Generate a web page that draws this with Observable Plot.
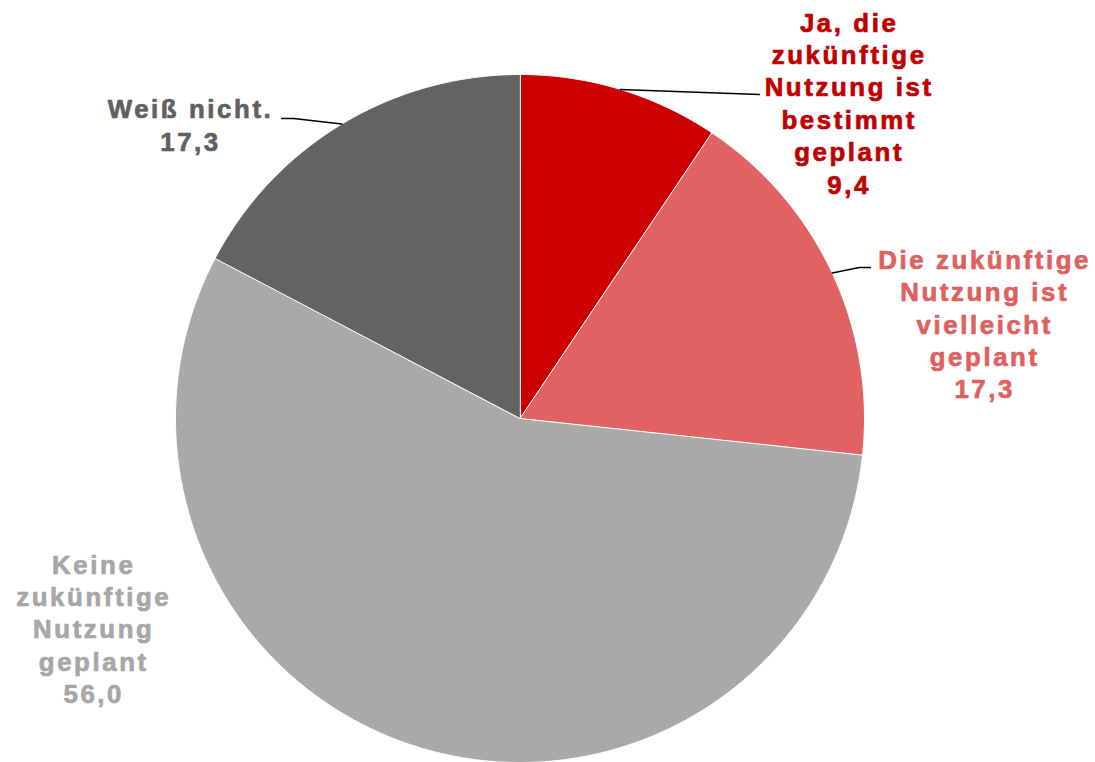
<!DOCTYPE html>
<html><head><meta charset="utf-8">
<script src="https://cdn.jsdelivr.net/npm/d3@7"></script>
<script src="https://cdn.jsdelivr.net/npm/@observablehq/plot@0.6"></script>
<style>
body{margin:0;background:#fff}
#chart svg text{letter-spacing:2.6px}
</style></head><body><div id="chart"></div>
<script>
const categories = ["Ja, die zukünftige Nutzung ist bestimmt geplant", "Die zukünftige Nutzung ist vielleicht geplant", "Keine zukünftige Nutzung geplant", "Weiß nicht."];
const values = [9.4, 17.3, 56.0, 17.3];
const labelLines = [["Ja, die","zukünftige","Nutzung ist","bestimmt","geplant"], ["Die zukünftige","Nutzung ist","vielleicht","geplant"], ["Keine","zukünftige","Nutzung","geplant"], ["Weiß nicht."]];
const valueLabels = ["9,4","17,3","56,0","17,3"];
const sliceColors = ["#cc0000","#e06262","#a9a9a9","#636363"];
const textColors = ["#c00000","#e06060","#a6a6a6","#606060"];

// label layout: angle (deg, clockwise from top) and distance in pie radii
const labelAngle = [46.1, 78.4, 243.8, 311.8];
const labelRadius = [1.326, 1.377, 1.379, 1.283];
// leader-line bends (in pie radii), null = no leader
const leaderBends = [[[0.695,0.942]], [[0.985,0.439],[1.017,0.439]], null, [[-0.657,0.872],[-0.692,0.872]]];

const arcs = d3.pie().sort(null).value(d => d)(values);
const slicePts = [];
arcs.forEach((a, i) => {
  slicePts.push({cat: categories[i], x: 0, y: 0});
  const n = Math.max(2, Math.ceil((a.endAngle - a.startAngle) / (Math.PI / 360)));
  for (let k = 0; k <= n; k++) {
    const t = a.startAngle + (a.endAngle - a.startAngle) * k / n;
    slicePts.push({cat: categories[i], x: Math.sin(t), y: Math.cos(t)});
  }
});

const leaderPts = [];
arcs.forEach((a, i) => {
  if (!leaderBends[i]) return;
  const m = (a.startAngle + a.endAngle) / 2;
  leaderPts.push({g: i, x: Math.sin(m), y: Math.cos(m)});
  leaderBends[i].forEach(([x, y]) => leaderPts.push({g: i, x, y}));
});

const labelMarks = categories.map((c, i) => {
  const a = labelAngle[i] * Math.PI / 180;
  return Plot.text([{x: labelRadius[i] * Math.sin(a), y: labelRadius[i] * Math.cos(a), t: [...labelLines[i], valueLabels[i]].join("\n")}], {
    x: "x", y: "y", text: "t", fill: textColors[i], stroke: textColors[i], strokeWidth: 0.7,
    fontSize: 25.8, fontWeight: "bold",
    fontFamily: "'Liberation Sans', Arial, sans-serif", lineHeight: 1.255, textAnchor: "middle"
  });
});

const chart = Plot.plot({
  width: 1095, height: 762,
  marginLeft: 175, marginRight: 231, marginTop: 74, marginBottom: 0,
  x: {domain: [-1, 1], axis: null},
  y: {domain: [-1, 1], axis: null},
  color: {type: "ordinal", domain: categories, range: sliceColors},
  style: {overflow: "visible", background: "#fff"},
  marks: [
    Plot.line(slicePts, {x: "x", y: "y", z: "cat", fill: "cat", stroke: "white", strokeWidth: 1, curve: "linear-closed"}),
    Plot.line(leaderPts, {x: "x", y: "y", z: "g", stroke: "#000", strokeWidth: 1.5}),
    ...labelMarks
  ]
});
document.getElementById("chart").appendChild(chart);
</script></body></html>
